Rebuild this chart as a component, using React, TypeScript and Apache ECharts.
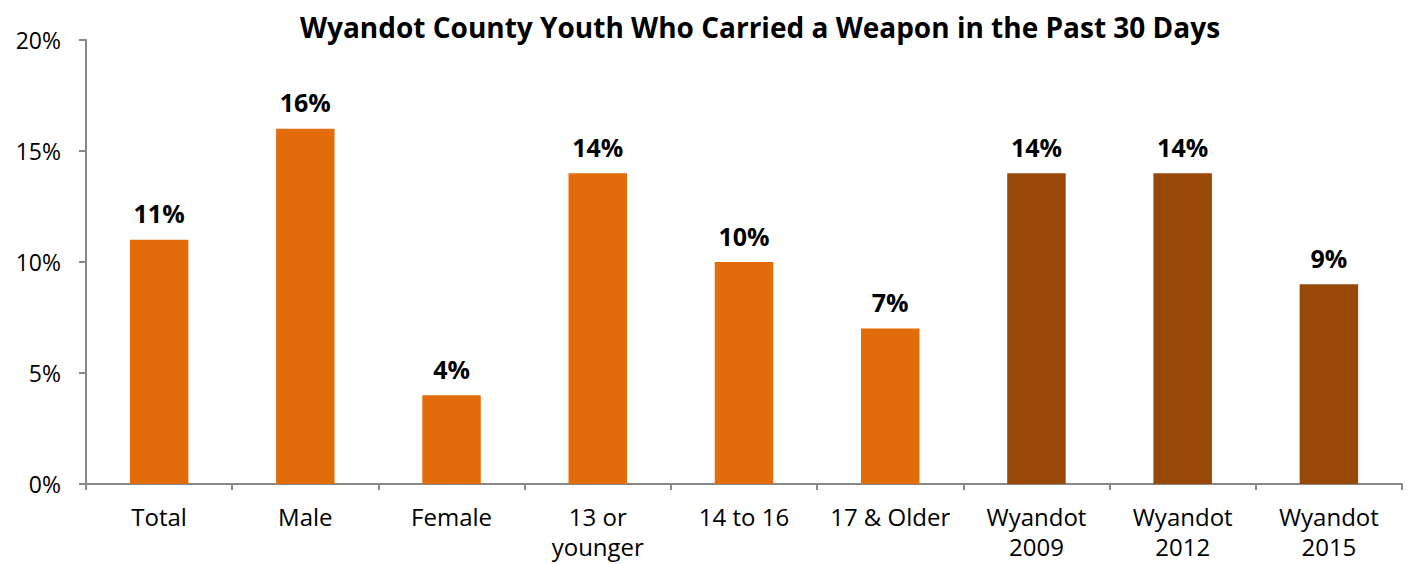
import React, { useEffect, useRef } from "react";
import * as echarts from "echarts";

const categories = ["Total", "Male", "Female", "13 or\nyounger", "14 to 16", "17 & Older", "Wyandot\n2009", "Wyandot\n2012", "Wyandot\n2015"];
const values = [11, 16, 4, 14, 10, 7, 14, 14, 9];
const barColors = ["#E36C0A", "#E36C0A", "#E36C0A", "#E36C0A", "#E36C0A", "#E36C0A", "#984807", "#984807", "#984807"];
const yTicks = [0, 5, 10, 15, 20];
const title = "Wyandot County Youth Who Carried a Weapon in the Past 30 Days";

const FONT = "'Open Sans', 'Noto Sans', sans-serif";

export default function App() {
  const ref = useRef<HTMLDivElement>(null);
  useEffect(() => {
    if (!ref.current) return;
    const chart = echarts.init(ref.current, undefined, { renderer: "svg" });
    chart.setOption({
      animation: false,
      title: {
        text: title,
        left: 755,
        textAlign: "center",
        top: 8,
        textStyle: { fontFamily: FONT, fontWeight: "bold", fontSize: 28, color: "#000" },
      },
      grid: { left: 86, right: 8, top: 40, bottom: 80, containLabel: false },
      xAxis: {
        type: "category",
        data: categories,
        axisLine: { lineStyle: { color: "#888", width: 2 } },
        axisTick: { show: true, length: 6, lineStyle: { color: "#888", width: 2 } },
        axisLabel: { fontFamily: FONT, fontSize: 24, color: "#000", margin: 17, lineHeight: 30, interval: 0 },
      },
      yAxis: {
        type: "value",
        min: 0,
        max: yTicks[yTicks.length - 1],
        interval: 5,
        splitLine: { show: false },
        axisLine: { show: true, lineStyle: { color: "#888", width: 2 } },
        axisTick: { show: true, length: 7, lineStyle: { color: "#888", width: 2 } },
        axisLabel: { fontFamily: FONT, fontSize: 23, color: "#000", margin: 25, formatter: (v: number) => v + "%" },
      },
      series: [
        {
          type: "bar",
          barWidth: "40%",
          data: values.map((v, i) => ({ value: v, itemStyle: { color: barColors[i] } })),
          label: {
            show: true,
            position: "top",
            distance: 14,
            formatter: (p: any) => p.value + "%",
            fontFamily: FONT,
            fontWeight: "bold",
            fontSize: 25,
            color: "#000",
          },
        },
      ],
    });
    return () => chart.dispose();
  }, []);
  return <div ref={ref} style={{ width: 1410, height: 564, position: "absolute", left: 0, top: 0 }} />;
}
